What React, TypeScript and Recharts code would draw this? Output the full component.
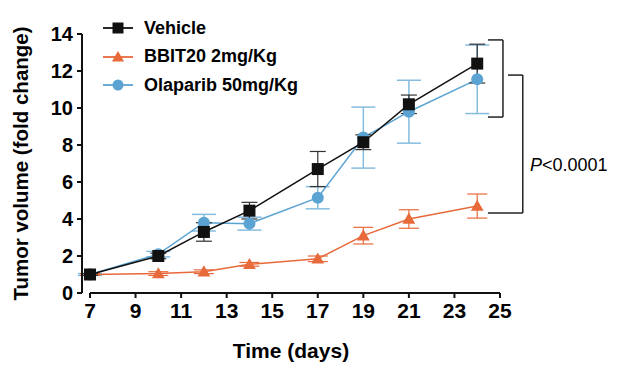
import React from 'react';
import { LineChart, Line, XAxis, YAxis, ErrorBar, ReferenceLine, Legend } from 'recharts';

const days = [7, 10, 12, 14, 17, 19, 21, 24];
const vehicle = [1.0, 2.0, 3.3, 4.45, 6.7, 8.15, 10.2, 12.4];
const vehicleErr = [0.05, 0.15, 0.5, 0.45, 0.95, 0.4, 0.5, 1.05];
const bbit = [1.0, 1.05, 1.15, 1.55, 1.85, 3.1, 4.0, 4.7];
const bbitErr = [0.05, 0.1, 0.1, 0.1, 0.15, 0.45, 0.5, 0.65];
const olaparib = [1.0, 2.1, 3.8, 3.75, 5.15, 8.4, 9.8, 11.55];
const olaparibErr = [0.05, 0.15, 0.45, 0.35, 0.6, 1.65, 1.7, 1.85];

const xTicks = [7, 9, 11, 13, 15, 17, 19, 21, 23, 25];
const yTicks = [0, 2, 4, 6, 8, 10, 12, 14];

const BLACK = '#111111';
const ORANGE = '#e8693a';
const BLUE = '#5ba3d2';
const FONT = '"Liberation Sans", Arial, Helvetica, sans-serif';

const data = days.map((d, i) => ({
    day: d,
    vehicle: vehicle[i],
    vehicleErr: vehicleErr[i],
    bbit: bbit[i],
    bbitErr: bbitErr[i],
    olaparib: olaparib[i],
    olaparibErr: olaparibErr[i],
}));

const legendItems = [
    { name: 'Vehicle', color: BLACK, shape: 'square' },
    { name: 'BBIT20 2mg/Kg', color: ORANGE, shape: 'triangle' },
    { name: 'Olaparib 50mg/Kg', color: BLUE, shape: 'circle' },
];

const Marker = ({ cx, cy, shape, color, size }: any) => {
    if (shape === 'square') {
        return <rect x={cx - size} y={cy - size} width={size * 2} height={size * 2} fill={color} />;
    }
    if (shape === 'triangle') {
        const h = size * 1.1;
        return (
            <polygon
                points={`${cx},${cy - h} ${cx - size * 1.1},${cy + h * 0.75} ${cx + size * 1.1},${cy + h * 0.75}`}
                fill={color}
            />
        );
    }
    return <circle cx={cx} cy={cy} r={size} fill={color} />;
};

const makeDot = (shape: string, color: string, size: number) => (props: any) => (
    <Marker key={`${shape}-${props.index}`} cx={props.cx} cy={props.cy} shape={shape} color={color} size={size} />
);

const renderLegend = () => (
    <div>
        {legendItems.map((item) => (
            <div key={item.name} style={{ display: 'flex', alignItems: 'center', height: 28.5 }}>
                <svg width={44} height={28}>
                    <line x1={3} x2={33} y1={14} y2={14} stroke={item.color} strokeWidth={1.8} />
                    <Marker cx={18} cy={14} shape={item.shape} color={item.color} size={5.5} />
                </svg>
                <span style={{ fontFamily: FONT, fontWeight: 'bold', fontSize: 18, color: '#000' }}>{item.name}</span>
            </div>
        ))}
    </div>
);

const bracketStyle = { stroke: '#222', strokeWidth: 1.5, ifOverflow: 'visible' as const };

export default function App() {
    return (
        <div style={{ position: 'absolute', left: 0, top: 0, width: 617, height: 373, background: '#fff' }}>
            <LineChart width={617} height={373} data={data} margin={{ top: 34, right: 117, bottom: 0, left: 0 }}>
                <XAxis
                    type="number"
                    dataKey="day"
                    domain={[7, 25]}
                    ticks={xTicks}
                    padding={{ left: 8, right: 0 }}
                    height={80}
                    axisLine={false}
                    tickLine={{ stroke: BLACK, strokeWidth: 2 }}
                    tickSize={5}
                    tickMargin={5}
                    tick={{ fill: '#000', fontSize: 21, fontWeight: 'bold', fontFamily: FONT }}
                    label={{
                        value: 'Time (days)',
                        position: 'insideBottom',
                        offset: 15,
                        style: { fill: '#000', fontSize: 21, fontWeight: 'bold', fontFamily: FONT },
                    }}
                />
                <YAxis
                    type="number"
                    domain={[0, 14]}
                    ticks={yTicks}
                    width={82}
                    axisLine={{ stroke: BLACK, strokeWidth: 2 }}
                    tickLine={{ stroke: BLACK, strokeWidth: 2 }}
                    tickSize={5}
                    tickMargin={4}
                    tick={{ fill: '#000', fontSize: 20, fontWeight: 'bold', fontFamily: FONT }}
                    label={{
                        value: 'Tumor volume (fold change)',
                        angle: -90,
                        position: 'insideLeft',
                        offset: 21,
                        style: { fill: '#000', fontSize: 20.5, fontWeight: 'bold', fontFamily: FONT, textAnchor: 'middle' },
                    }}
                />
                <ReferenceLine segment={[{ x: 7, y: 0 }, { x: 25, y: 0 }]} stroke={BLACK} strokeWidth={2} ifOverflow="visible" />

                {/* significance brackets */}
                <ReferenceLine segment={[{ x: 24.47, y: 13.68 }, { x: 25.13, y: 13.68 }]} {...bracketStyle} />
                <ReferenceLine segment={[{ x: 25.13, y: 13.68 }, { x: 25.13, y: 9.51 }]} {...bracketStyle} />
                <ReferenceLine segment={[{ x: 24.47, y: 9.51 }, { x: 25.13, y: 9.51 }]} {...bracketStyle} />
                <ReferenceLine segment={[{ x: 25.35, y: 11.78 }, { x: 26.0, y: 11.78 }]} {...bracketStyle} />
                <ReferenceLine segment={[{ x: 26.0, y: 11.78 }, { x: 26.0, y: 4.32 }]} {...bracketStyle} />
                <ReferenceLine segment={[{ x: 24.47, y: 4.32 }, { x: 26.0, y: 4.32 }]} {...bracketStyle} />

                <Line
                    dataKey="olaparib"
                    stroke={BLUE}
                    strokeWidth={1.5}
                    dot={makeDot('circle', BLUE, 6)}
                    isAnimationActive={false}
                >
                    <ErrorBar dataKey="olaparibErr" width={12} stroke="#86bce0" strokeWidth={1.5} direction="y" isAnimationActive={false} />
                </Line>
                <Line
                    dataKey="bbit"
                    stroke={ORANGE}
                    strokeWidth={1.5}
                    dot={makeDot('triangle', ORANGE, 5.8)}
                    isAnimationActive={false}
                >
                    <ErrorBar dataKey="bbitErr" width={10} stroke={ORANGE} strokeWidth={1.2} direction="y" isAnimationActive={false} />
                </Line>
                <Line
                    dataKey="vehicle"
                    stroke={BLACK}
                    strokeWidth={1.5}
                    dot={makeDot('square', BLACK, 6)}
                    isAnimationActive={false}
                >
                    <ErrorBar dataKey="vehicleErr" width={8} stroke="#333" strokeWidth={1.2} direction="y" isAnimationActive={false} />
                </Line>
                <Legend
                    layout="vertical"
                    align="center"
                    verticalAlign="middle"
                    content={renderLegend}
                    wrapperStyle={{ position: 'absolute', left: 100, top: 14, width: 260 }}
                />
            </LineChart>
            <div
                style={{
                    position: 'absolute',
                    left: 530,
                    top: 154,
                    fontFamily: FONT,
                    fontSize: 18,
                    color: '#000',
                    lineHeight: '22px',
                    whiteSpace: 'nowrap',
                }}
            >
                <i>P</i>&lt;0.0001
            </div>
        </div>
    );
}
